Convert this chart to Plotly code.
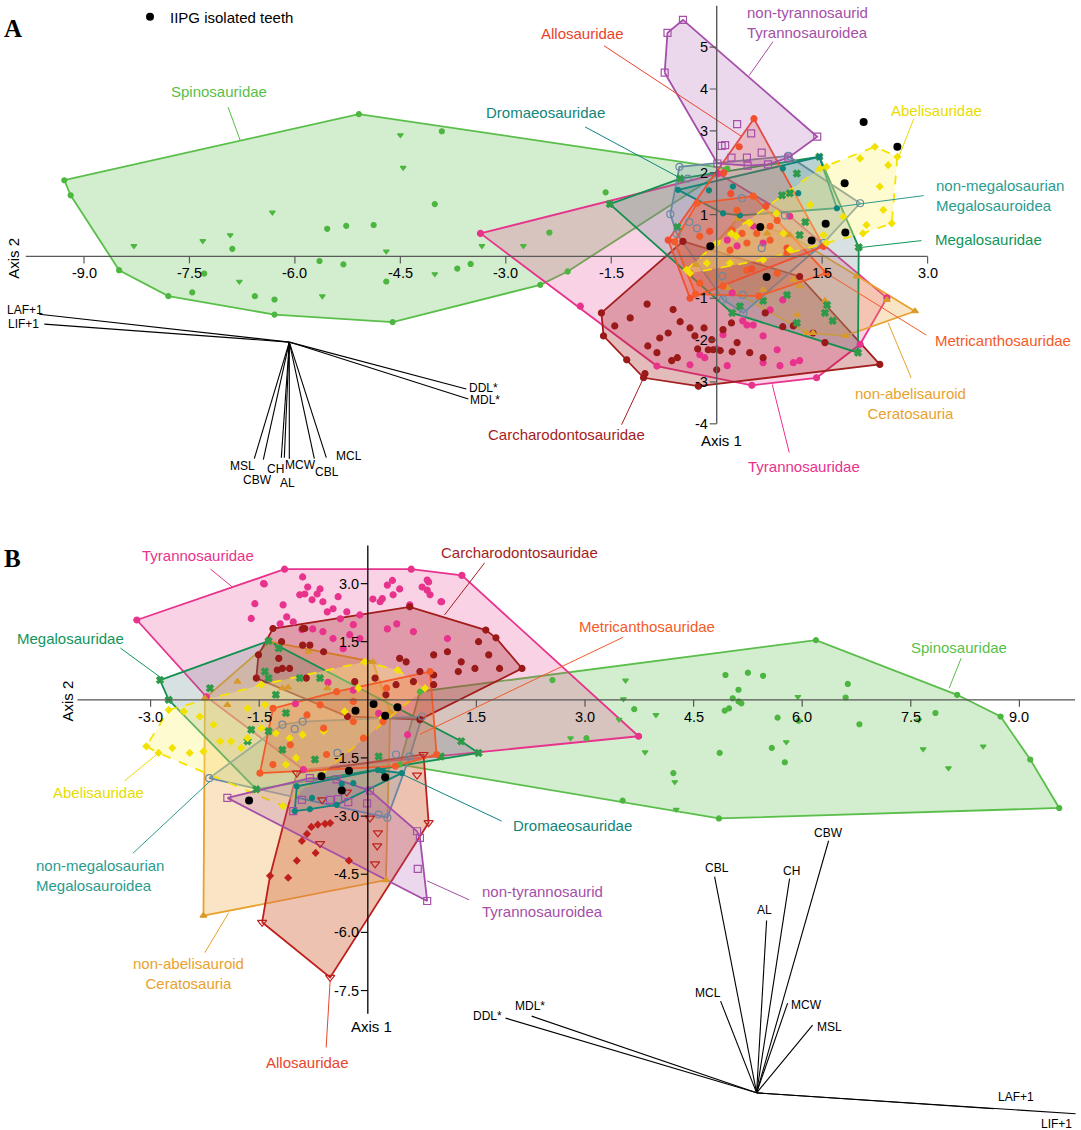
import plotly.graph_objects as go

W, H = 1081, 1130
SPLIT = 520  # pixel row separating panel A (top) and panel B (bottom)

# ======================= DATA : PANEL A =======================
spino_A_x = [-9.28,-5.09,0.15,-1.52,-2.51,-4.61,-6.29,-7.80,-8.50,-9.19,
             -3.91,-4.01,-5.54,-5.27,-4.88,-6.89,-5.65,-5.31,-3.69,-3.50,
             -4.70,-7.46,-6.29,-6.57,-7.29,-1.58,-2.38,-2.12]
spino_A_y = [1.82,3.40,2.10,1.25,-0.68,-1.57,-1.39,-0.95,-0.33,1.46,
             2.99,1.25,0.66,0.73,0.75,0.18,-0.11,-0.19,-0.29,-0.18,
             -0.60,-0.86,-1.03,-0.95,-0.41,1.53,0.57,-0.36]
spino_A_tri_x = [-4.50,-4.46,-6.32,-6.92,-7.31,-8.29,-4.70,-4.01,-6.79,-5.61,-3.34,-2.75]
spino_A_tri_y = [2.90,2.12,1.05,0.51,0.37,0.25,0.12,-0.42,-0.60,-0.95,0.25,0.25]

tyranno_A_x = [-3.36,0.02,2.42,2.04,1.42,0.50,-0.85,-1.94,
               0.43,0.52,0.66,0.86,1.09,-0.38,-0.24,0.15,0.37,0.09,1.18,0.66,0.90,0.00,
               0.76,0.22,0.94,-0.17,0.52,1.04,0.66,0.15,0.29]
tyranno_A_y = [0.55,1.98,-0.99,-2.10,-2.90,-3.08,-2.62,-1.19,
               -1.64,-1.64,-1.90,-2.23,-2.54,-2.59,-2.35,-2.61,-1.54,-1.87,-2.49,-2.54,-2.61,-2.21,
               -1.28,-0.87,-1.04,-2.42,0.72,0.96,0.32,0.39,0.25]

carch_A_x = [-0.48,-1.64,-1.61,-1.04,-0.26,2.32,1.18,
             -0.99,-1.23,-1.45,-0.69,-0.52,-0.38,-0.31,-0.18,-0.07,-0.05,
             -0.27,-0.12,0.05,0.22,0.47,0.66,-0.56,-0.64,-0.85,-0.98,
             -1.28,-1.02,0.00,0.29,0.94,1.09,1.37,1.54,0.09,
             -0.62,-0.81,0.21,0.69]
carch_A_y = [0.36,-1.35,-1.90,-2.90,-3.10,-2.58,-0.48,
             -1.14,-1.47,-1.66,-1.83,-1.56,-1.71,-1.90,-1.71,-1.99,-2.23,
             -2.21,-2.23,-2.25,-2.28,-2.30,-2.42,-2.42,-2.49,-2.30,-2.14,
             -2.47,-2.80,-2.71,-2.06,-1.68,-1.66,-1.83,-2.06,-1.75,
             -1.27,-1.95,-1.59,-1.35]

cerato_A_x = [2.82,1.99,1.28,1.14,1.54,1.37,1.83,2.42,0.66,1.18,0.15,1.04,0.72,1.09,-0.30,0.30]
cerato_A_y = [-1.31,-0.48,-1.83,-1.40,-1.06,-1.83,-1.90,-1.04,-0.80,-0.71,-0.75,0.51,0.55,-0.56,-0.20,0.90]

megalo_A_x = [1.46,2.02,2.01,0.33,-1.52,-0.52,1.04,0.93,1.14,1.26,1.18,-0.56,1.00,1.14,1.57,1.65,1.54,0.66,0.22]
megalo_A_y = [2.38,0.22,-2.30,-1.19,1.25,1.86,1.51,1.46,1.98,0.82,0.51,0.70,-0.92,-1.59,-1.16,-1.54,-1.35,-1.06,-1.35]

nonmeg_A_x = [-0.53,1.02,2.04,1.52,0.38,0.09,-0.66,-0.57,-0.41,-0.39,-0.28,0.36,0.97,0.64,0.08,0.37]
nonmeg_A_y = [2.14,2.40,1.27,0.32,-1.35,-1.03,1.01,0.55,1.86,0.82,0.67,1.39,0.98,0.20,-0.47,-0.92]

dromaeo_A_x = [-0.55,1.46,1.71,0.33,0.09,-0.11,0.23,0.94,1.16]
dromaeo_A_y = [1.59,2.38,1.15,0.98,1.03,1.58,1.67,2.10,1.51]

metri_A_x = [0.22,0.36,0.43,0.57,0.76,0.19,-0.24,0.29,0.76,0.52,0.86,-0.38,-0.24,0.09,0.43,0.86,1.00,
             -0.28,-0.60,1.56,0.60,-0.30]
metri_A_y = [0.63,0.55,0.32,0.55,0.39,0.15,0.48,1.10,0.72,1.44,0.86,-0.40,-0.64,-0.71,-0.33,-0.40,0.08,
             1.27,0.35,-0.40,-0.95,-0.90]

allo_A_x = [0.53,0.32,-0.69,-0.38,1.52,0.20,0.70,-0.10,1.00,0.50,0.10]
allo_A_y = [3.29,2.62,0.39,-1.00,0.24,1.50,1.20,0.60,0.20,-0.30,2.00]

nontyr_A_x = [-0.48,-0.70,-0.74,1.43,0.01,0.29,0.49,0.07,0.12,0.21,0.43,0.64,0.44,0.73,1.02]
nontyr_A_y = [5.65,5.34,4.39,2.86,2.22,3.16,2.94,2.64,2.66,2.36,2.36,2.48,2.17,2.20,2.36]

abeli_A_x = [2.25,2.57,2.49,2.08,1.56,-0.43,-0.38,1.56,1.47,1.33,0.85,0.47,0.21,0.00,-0.14,0.19,
             0.66,1.04,1.52,1.80,2.37,2.32,2.04,2.44,2.13,0.95,0.28]
abeli_A_y = [2.62,2.38,0.79,0.55,0.32,-0.32,-0.40,2.14,2.10,1.23,1.03,0.79,0.55,0.32,-0.16,-0.16,
             -0.08,0.16,0.51,0.95,1.11,1.67,2.34,2.18,0.75,0.55,0.48]

iipg_A_x = [2.09,2.57,1.82,1.55,1.83,1.35,0.62,-0.09,0.71]
iipg_A_y = [3.21,2.62,1.75,0.78,0.57,0.38,0.70,0.24,-0.49]

# biplot loadings panel A (Axis1, Axis2), arbitrary biplot units
load_names_A = ['LAF+1','LIF+1','DDL*','MDL*','MSL','CBW','CH','AL','MCW','CBL','MCL']
load_A_x = [-2.50,-2.45,1.77,1.79,-0.35,-0.26,-0.08,-0.05,0.00,0.25,0.37]
load_A_y = [0.28,0.18,-0.47,-0.57,-1.17,-1.18,-1.16,-1.16,-1.17,-1.17,-1.16]

# ======================= DATA : PANEL B =======================
spino_B_x = [6.19,8.14,8.74,9.15,9.55,4.85,3.52,0.44,0.72,
             2.55,4.94,5.25,5.46,5.12,5.04,5.12,5.16,4.99,4.93,3.68,5.66,5.95,6.60,5.58,5.76,4.86,4.22,3.02,7.84,
             6.63,6.79]
spino_B_y = [1.54,0.13,-0.43,-1.54,-2.79,-3.06,-2.60,-1.67,0.21,
             0.51,0.64,0.70,0.62,0.26,0.04,-0.04,-0.09,-0.22,-0.28,-0.24,-0.46,-0.54,0.06,-1.24,-1.61,-1.37,-1.89,-0.99,-0.34,
             0.41,-0.63]
spino_B_tri_x = [3.56,3.53,3.98,3.47,2.80,3.83,4.24,4.26,5.78,5.94,7.67,8.02,8.50,7.61]
spino_B_tri_y = [0.50,0.02,-0.39,-0.51,-0.99,-1.35,-2.12,-2.83,-1.09,0.08,-1.27,-1.76,-1.20,-0.53]

tyranno_B_x = [-3.19,-1.15,0.60,1.30,3.74,-0.89,-2.23,
               -1.43,-1.17,-0.94,-0.87,-0.83,-0.77,-0.70,-0.66,-0.62,-0.56,
               -0.48,-0.41,-0.38,-0.29,-0.20,-0.11,0.07,0.17,0.27,0.35,
               0.44,0.58,0.75,0.82,1.02,0.86,0.27,0.40,-1.03,-0.91,
               -0.76,-0.62,-0.48,-0.25,-0.34,-0.11,-1.21,-1.12,
               -1.44,-0.90,0.34,0.84,0.82,1.01,1.10,0.63,0.20,-1.56,-1.61,
               -0.55,-0.20,0.15,0.55,-1.00]
tyranno_B_y = [2.06,3.37,3.37,3.21,-0.94,-1.80,0.08,
               2.99,2.45,2.71,2.73,2.91,2.58,2.73,2.86,2.53,2.27,
               2.35,2.66,2.09,2.27,1.94,2.19,2.60,2.53,2.96,2.71,
               2.86,2.45,2.91,3.09,2.53,2.71,1.83,1.96,2.01,1.81,
               1.83,1.76,1.58,1.68,1.32,1.58,1.96,2.14,
               3.00,3.17,3.08,3.04,2.83,2.53,1.58,1.76,2.61,2.48,2.10,
               0.45,0.25,-0.35,-0.90,-0.10]

carch_B_x = [-1.31,0.58,1.63,1.77,2.13,0.72,-0.28,-1.54,-1.51,
             -0.90,-0.80,-0.61,-1.23,-1.18,0.91,1.10,1.29,1.48,1.67,
             1.82,1.25,0.91,0.72,0.53,0.44,0.63,0.91,0.39,0.10,
             -0.18,0.25,1.53,-1.19,-0.87,-1.25,-0.85,-1.08,-0.90]
carch_B_y = [1.84,2.40,1.80,1.60,0.81,-0.51,-0.43,0.56,1.16,
             1.84,1.41,1.24,1.07,0.81,1.16,1.24,0.98,0.81,1.16,
             0.81,0.73,0.64,0.73,0.98,1.07,0.47,0.39,0.39,0.56,
             0.47,0.13,1.50,1.50,1.84,0.77,0.56,0.81,1.41]

cerato_B_x = [-2.25,-1.35,0.07,0.31,0.25,-2.27,-1.80,-1.94,-1.18,-0.56,-0.04,-0.82,-1.10]
cerato_B_y = [0.04,1.50,0.98,-0.30,-4.65,-5.57,0.47,-0.13,0.30,0.30,-0.99,1.24,0.32]

allo_B_x = [-0.98,0.77,0.84,-0.52,-1.46,-0.63,-0.29,0.03,0.14,0.13,0.10,-0.66,0.68]
allo_B_y = [-1.89,-1.41,-3.17,-7.16,-5.74,-2.58,-2.38,-3.05,-3.43,-3.77,-4.23,-3.71,-1.94]
allo_B_dia_x = [-0.78,-0.69,-0.59,-0.52,-0.84,-0.91,-0.72,-0.98,-0.26,-1.10,-1.35]
allo_B_dia_y = [-3.28,-3.22,-3.20,-3.18,-3.46,-3.64,-3.95,-4.15,-4.15,-4.59,-4.54]

megalo_B_x = [-2.87,-1.37,-2.75,-1.54,1.53,-1.23,-1.42,-1.37,-0.94,-0.66,-2.18,
              -1.27,-1.13,-1.61,-1.66,-1.37,-1.18,-0.73,0.15,1.01,1.29]
megalo_B_y = [0.51,1.52,0.00,-2.31,-1.37,1.33,0.73,0.56,0.56,0.56,0.30,
              0.13,-0.34,-0.77,-1.07,-0.81,-1.29,-1.54,-1.46,-1.46,-1.07]

nonmeg_B_x = [-2.19,0.15,0.27,0.75,-0.90,-1.18,-1.01,0.39,0.58,-0.42]
nonmeg_B_y = [-2.02,-2.96,-3.04,-0.43,-0.56,-0.64,-0.75,-1.41,-1.46,-1.37]

abeli_B_x = [-2.75,-3.06,-2.89,-1.17,0.79,0.41,-0.04,-1.47,
             -2.54,-2.32,-2.13,-2.70,-2.46,-2.27,-2.04,-1.89,-1.75,-1.66,
             -1.47,-1.27,-1.08,-0.90,-0.99,-1.13,-0.61,-0.32,-0.13,0.20,-1.66,-1.42]
abeli_B_y = [-0.26,-1.20,-1.37,-2.74,0.30,0.77,0.98,0.39,
             -0.30,-0.43,-0.64,-1.24,-1.37,-1.33,-1.07,-1.07,-1.24,-0.99,
             -0.73,-0.86,-0.99,-0.90,-1.50,-1.67,-0.81,-0.30,0.30,-0.47,-0.22,-0.13]

metri_B_x = [-1.49,-1.31,0.86,0.95,0.38,-0.66,-0.43,-0.20,-0.84,0.26,-0.20,-0.57,-0.06,-1.31,-1.07,-0.61,0.21]
metri_B_y = [-1.89,-0.22,0.73,-1.41,-1.71,-0.13,0.21,-0.04,-0.39,0.30,-0.56,-1.41,-0.99,-1.67,-1.16,-0.73,-0.56]

nontyr_B_x = [-1.94,0.03,0.68,0.82,-0.80,-1.03,-0.91,-0.52,-0.41,-0.27,-0.01,-0.43,0.69,0.72]
nontyr_B_y = [-2.53,-2.34,-3.39,-5.19,-2.02,-2.87,-2.58,-2.58,-2.56,-2.64,-2.67,-2.05,-4.36,-3.56]

dromaeo_B_x = [-0.98,-1.01,-0.80,-0.43,0.47,0.14,-0.36,-0.20,-0.77,0.21]
dromaeo_B_y = [-2.23,-2.87,-2.82,-2.71,-1.89,-1.81,-2.17,-2.15,-2.53,-1.84]

iipg_B_x = [-0.17,0.08,0.41,0.24,-0.26,-0.64,0.24,-0.36,-1.64]
iipg_B_y = [-0.28,-0.11,-0.19,-0.41,-1.83,-1.97,-2.00,-2.34,-2.60]

load_names_B = ['DDL*','MDL*','MCL','CBL','AL','CH','CBW','MCW','MSL','LAF+1','LIF+1']
load_B_x = [-2.51,-2.25,-0.36,-0.42,0.10,0.33,0.72,0.31,0.56,2.37,3.19]
load_B_y = [0.75,0.77,0.92,2.17,1.73,2.15,2.53,0.90,0.68,-0.16,-0.21]

# tick values
A_xticks = [-9.0,-7.5,-6.0,-4.5,-3.0,-1.5,1.5,3.0]
A_yticks = [5,4,3,2,1,-1,-2,-3,-4]
B_xticks = [-3.0,-1.5,1.5,3.0,4.5,6.0,7.5,9.0]
B_yticks = [3.0,1.5,-1.5,-3.0,-4.5,-6.0,-7.5]

# ======================= STYLE =======================
FONT = "Liberation Sans, Arial, Helvetica, sans-serif"
STY = {
    'spino':   dict(line='#5abf4a', fill='rgba(90,191,74,0.27)', mk='#4cb640', sym='circle', sz=5, lab='#5abf4a'),
    'tyranno': dict(line='#e8338c', fill='rgba(232,51,140,0.22)', mk='#e8338c', sym='circle', sz=6, lab='#e8338c'),
    'carch':   dict(line='#a31d1d', fill='rgba(163,29,29,0.30)', mk='#9a1a1a', sym='circle', sz=6, lab='#a31d1d'),
    'cerato':  dict(line='#e8a22e', fill='rgba(232,162,46,0.28)', mk='#d99a2a', sym='triangle-up', sz=6, lab='#e8a22e'),
    'megalo':  dict(line='#12904f', fill='rgba(100,135,140,0.25)', mk='#2f9a4a', sym='x', sz=6, lab='#11955a'),
    'nonmeg':  dict(line='#6b89a0', fill='rgba(107,137,160,0.22)', mk='#6b89a0', sym='circle-open', sz=7, lab='#2b9b8f'),
    'dromaeo': dict(line='#0f857b', fill='rgba(15,133,123,0.14)', mk='#0f857b', sym='circle', sz=5, lab='#0f857b'),
    'metri':   dict(line='#f35b29', fill='rgba(243,91,41,0.25)', mk='#f35b29', sym='circle', sz=6, lab='#f35b29'),
    'allo':    dict(line='#f0502e', fill='rgba(240,80,46,0.22)', mk='#f0502e', sym='circle', sz=6, lab='#e8452c'),
    'nontyr':  dict(line='#a54fa8', fill='rgba(165,79,168,0.22)', mk='#a54fa8', sym='square-open', sz=7, lab='#a54fa8'),
    'abeli':   dict(line='#f5e300', fill='rgba(255,243,120,0.35)', mk='#f2e200', sym='diamond', sz=5, lab='#e6dc00'),
}
B_OVERRIDE = {'allo': dict(line='#c0201d', fill='rgba(214,110,70,0.42)', mk='#c0201d', sym='triangle-down-open', sz=8)}

PANEL_A = {
    'spino': [(spino_A_x, spino_A_y, 'circle'), (spino_A_tri_x, spino_A_tri_y, 'triangle-down')],
    'tyranno': [(tyranno_A_x, tyranno_A_y, None)],
    'carch': [(carch_A_x, carch_A_y, None)],
    'cerato': [(cerato_A_x, cerato_A_y, None)],
    'megalo': [(megalo_A_x, megalo_A_y, None)],
    'nonmeg': [(nonmeg_A_x, nonmeg_A_y, None)],
    'dromaeo': [(dromaeo_A_x, dromaeo_A_y, None)],
    'metri': [(metri_A_x, metri_A_y, None)],
    'allo': [(allo_A_x, allo_A_y, None)],
    'nontyr': [(nontyr_A_x, nontyr_A_y, None)],
    'abeli': [(abeli_A_x, abeli_A_y, None)],
}
PANEL_B = {
    'spino': [(spino_B_x, spino_B_y, 'circle'), (spino_B_tri_x, spino_B_tri_y, 'triangle-down')],
    'tyranno': [(tyranno_B_x, tyranno_B_y, None)],
    'cerato': [(cerato_B_x, cerato_B_y, None)],
    'allo': [(allo_B_x, allo_B_y, None), (allo_B_dia_x, allo_B_dia_y, 'diamond')],
    'carch': [(carch_B_x, carch_B_y, None)],
    'megalo': [(megalo_B_x, megalo_B_y, None)],
    'nonmeg': [(nonmeg_B_x, nonmeg_B_y, None)],
    'abeli': [(abeli_B_x, abeli_B_y, None)],
    'metri': [(metri_B_x, metri_B_y, None)],
    'nontyr': [(nontyr_B_x, nontyr_B_y, None)],
    'dromaeo': [(dromaeo_B_x, dromaeo_B_y, None)],
}

# label placement: tip (data), label offset px, leader start offset px, text, alignment
LABELS_A = {
    'spino':   ((-6.78, 2.78), (-21, 49), (-12, 33), 'Spinosauridae', 'center'),
    'dromaeo': ((-0.55, 1.90), (-133, 64), (-93, 50), 'Dromaeosauridae', 'center'),
    'allo':    ((0.36, 2.86), (-160, 103), (-138, 91), 'Allosauridae', 'center'),
    'nontyr':  ((0.46, 4.32), (58, 53), (24, 34), 'non-tyrannosaurid<br>Tyrannosauroidea', 'left'),
    'abeli':   ((2.59, 2.38), (38, 46), (15, 38), 'Abelisauridae', 'center'),
    'nonmeg':  ((1.75, 1.19), (160, 11), (84, 11), 'non-megalosaurian<br>Megalosauroidea', 'left'),
    'megalo':  ((2.03, 0.21), (129, 8), (62, 7), 'Megalosauridae', 'center'),
    'metri':   ((1.56, -0.40), (177, -67), (100, -62), 'Metricanthosauridae', 'center'),
    'cerato':  ((2.44, -1.59), (22, -81), (23, -55), 'non-abelisauroid<br>Ceratosauria', 'center'),
    'tyranno': ((0.79, -3.06), (32, -82), (17, -68), 'Tyrannosauridae', 'center'),
    'carch':   ((-1.04, -2.90), (-77, -57), (-22, -47), 'Carcharodontosauridae', 'center'),
}
LABELS_B = {
    'tyranno': ((-1.87, 2.91), (-34, 32), (-22, 18), 'Tyrannosauridae', 'center'),
    'carch':   ((1.06, 2.19), (75, 62), (40, 52), 'Carcharodontosauridae', 'center'),
    'megalo':  ((-2.85, 0.56), (-91, 40), (-41, 30), 'Megalosauridae', 'center'),
    'metri':   ((0.72, -0.89), (227, 108), (203, 97), 'Metricanthosauridae', 'center'),
    'spino':   ((8.03, 0.30), (10, 41), (12, 30), 'Spinosauridae', 'center'),
    'abeli':   ((-2.89, -1.37), (-60, -40), (-34, -28), 'Abelisauridae', 'center'),
    'dromaeo': ((0.44, -1.89), (173, -52), (102, -48), 'Dromaeosauridae', 'center'),
    'nonmeg':  ((-2.18, -2.10), (-110, -94), (-77, -72), 'non-megalosaurian<br>Megalosauroidea', 'left'),
    'nontyr':  ((0.82, -4.67), (115, -21), (42, -19), 'non-tyrannosaurid<br>Tyrannosauroidea', 'left'),
    'cerato':  ((-1.92, -5.49), (-40, -61), (-24, -40), 'non-abelisauroid<br>Ceratosauria', 'center'),
    'allo':    ((-0.52, -7.24), (-23, -82), (-4, -67), 'Allosauridae', 'center'),
}
LOADLAB_A = {'LAF+1': (-14, 4), 'LIF+1': (-21, 0), 'DDL*': (17, 1), 'MDL*': (17, -1), 'MSL': (-12, -7),
             'CBW': (-6, -20), 'CH': (-6, -11), 'AL': (3, -25), 'MCW': (11, -6), 'CBL': (13, -13), 'MCL': (23, 2)}
LOADLAB_B = {'DDL*': (-18, 2), 'MDL*': (-2, 10), 'MCL': (-13, 8), 'CBL': (2, 9), 'AL': (-2, 10), 'CH': (2, 8),
             'CBW': (0, 8), 'MCW': (19, -2), 'MSL': (17, -2), 'LAF+1': (22, 12), 'LIF+1': (-19, -10)}

# pixel anchors of the two plotting frames
A_X0, A_XS, A_Y0, A_YS = 716.7, 70.3, 253.3, 42.0
B_X0, B_XS, B_Y0, B_YS = 367.8, 72.4, 698.3, 38.9
A_BI = (289.3, 339.3)   # pixel location of loading-vector origin, panel A
B_BI = (756.6, 1092.7)  # panel B
BI_S = 100.0            # pixels per loading unit


def hull(xs, ys):
    pts = sorted(set(zip(xs, ys)))
    def cross(o, a, b):
        return (a[0]-o[0])*(b[1]-o[1]) - (a[1]-o[1])*(b[0]-o[0])
    lower, upper = [], []
    for p in pts:
        while len(lower) >= 2 and cross(lower[-2], lower[-1], p) <= 0:
            lower.pop()
        lower.append(p)
    for p in reversed(pts):
        while len(upper) >= 2 and cross(upper[-2], upper[-1], p) <= 0:
            upper.pop()
        upper.append(p)
    h = lower[:-1] + upper[:-1]
    h.append(h[0])
    return [p[0] for p in h], [p[1] for p in h]


fig = go.Figure()


def draw_panel(panel, xa, ya, override):
    for g, sets in panel.items():
        st = dict(STY[g]); st.update(override.get(g, {}))
        allx = [v for s in sets for v in s[0]]
        ally = [v for s in sets for v in s[1]]
        hx, hy = hull(allx, ally)
        fig.add_trace(go.Scatter(x=hx, y=hy, xaxis=xa, yaxis=ya, mode='lines', fill='toself',
                                 fillcolor=st['fill'],
                                 line=dict(color=st['line'], width=1.8, dash='dash' if g == 'abeli' else 'solid'),
                                 hoverinfo='skip', showlegend=False))
    for g, sets in panel.items():
        st = dict(STY[g]); st.update(override.get(g, {}))
        for xs, ys, sym in sets:
            s = sym or st['sym']
            size = 5 if (sym == 'diamond' and g == 'allo') else st['sz']
            fig.add_trace(go.Scatter(x=xs, y=ys, xaxis=xa, yaxis=ya, mode='markers',
                                     marker=dict(symbol=s, size=size, color=st['mk'],
                                                 line=dict(width=1.2, color=st['mk'])),
                                     hoverinfo='skip', showlegend=False))


draw_panel(PANEL_A, 'x', 'y', {})
draw_panel(PANEL_B, 'x2', 'y2', B_OVERRIDE)

fig.add_trace(go.Scatter(x=iipg_A_x, y=iipg_A_y, xaxis='x', yaxis='y', mode='markers',
                         marker=dict(color='black', size=8), name='IIPG isolated teeth', showlegend=True,
                         hoverinfo='skip'))
fig.add_trace(go.Scatter(x=iipg_B_x, y=iipg_B_y, xaxis='x2', yaxis='y2', mode='markers',
                         marker=dict(color='black', size=8), showlegend=False, hoverinfo='skip'))

# loading vectors
for names, lx, ly, xa, ya in [(load_names_A, load_A_x, load_A_y, 'x3', 'y3'),
                              (load_names_B, load_B_x, load_B_y, 'x4', 'y4')]:
    vx, vy = [], []
    for a, b in zip(lx, ly):
        vx += [0, a, None]
        vy += [0, b, None]
    fig.add_trace(go.Scatter(x=vx, y=vy, xaxis=xa, yaxis=ya, mode='lines',
                             line=dict(color='black', width=1.1), hoverinfo='skip', showlegend=False))

for names, lx, ly, xr, yr, offs in [(load_names_A, load_A_x, load_A_y, 'x3', 'y3', LOADLAB_A),
                                    (load_names_B, load_B_x, load_B_y, 'x4', 'y4', LOADLAB_B)]:
    for n, a, b in zip(names, lx, ly):
        fig.add_annotation(x=a, y=b, xref=xr, yref=yr, text=n, showarrow=False,
                           xshift=offs[n][0], yshift=offs[n][1],
                           font=dict(size=12, color='black', family=FONT))

# group labels with leader lines
for labels, xr, yr in [(LABELS_A, 'x', 'y'), (LABELS_B, 'x2', 'y2')]:
    for g, (tip, loff, soff, text, align) in labels.items():
        col = STY[g]['lab']
        fig.add_shape(type='line', xref=xr, yref=yr, xsizemode='pixel', ysizemode='pixel',
                      xanchor=tip[0], yanchor=tip[1], x0=0, y0=0, x1=soff[0], y1=soff[1],
                      line=dict(color=col, width=1))
        fig.add_annotation(x=tip[0], y=tip[1], xref=xr, yref=yr, text=text, showarrow=False,
                           xshift=loff[0], yshift=loff[1], align=align,
                           font=dict(size=15, color=col, family=FONT))


def draw_axes(xr, yr, xlo, xhi, ylo, yhi, xt, yt, fmtx, fmty, hcol, vcol):
    fig.add_shape(type='line', xref=xr, yref=yr, x0=xlo, x1=xhi, y0=0, y1=0, line=dict(color=hcol, width=1.4))
    fig.add_shape(type='line', xref=xr, yref=yr, x0=0, x1=0, y0=ylo, y1=yhi, line=dict(color=vcol, width=1.4))
    for v in xt:
        fig.add_shape(type='line', xref=xr, yref=yr, ysizemode='pixel', yanchor=0, y0=0, y1=-7,
                      x0=v, x1=v, line=dict(color=hcol, width=1.2))
        fig.add_annotation(x=v, y=0, xref=xr, yref=yr, text=fmtx(v), showarrow=False, yshift=-17,
                           font=dict(size=14.5, color='black', family=FONT))
    for v in yt:
        fig.add_shape(type='line', xref=xr, yref=yr, xsizemode='pixel', xanchor=0, x0=0, x1=-7,
                      y0=v, y1=v, line=dict(color=vcol, width=1.2))
        fig.add_annotation(x=0, y=v, xref=xr, yref=yr, text=fmty(v), showarrow=False, xanchor='right',
                           xshift=-7, font=dict(size=14.5, color='black', family=FONT))

draw_axes('x', 'y', (25.8 - A_X0) / A_XS, 3.0, -4.0, (A_Y0 - 1.7) / A_YS, A_xticks, A_yticks,
          lambda v: f"{v:.1f}", lambda v: f"{v:d}", '#5a5a5a', '#5a5a5a')
draw_axes('x2', 'y2', (77.5 - B_X0) / B_XS, (1075 - B_X0) / B_XS, (B_Y0 - 1013.3) / B_YS, (B_Y0 - 543.3) / B_YS,
          B_xticks, B_yticks, lambda v: f"{v:.1f}", lambda v: f"{v:.1f}", '#555555', '#111111')


def ptext(px, py, text, size=15, angle=0, family=FONT, bold=False):
    fig.add_annotation(x=px / W, y=1 - py / H, xref='paper', yref='paper', text=f"<b>{text}</b>" if bold else text,
                       showarrow=False, textangle=angle, xanchor='center', yanchor='middle',
                       font=dict(size=size, color='black', family=family))

ptext(12.7, 255, 'Axis 2', angle=-90)
ptext(721.8, 438.3, 'Axis 1')
ptext(67.1, 700, 'Axis 2', angle=-90)
ptext(371.9, 1026, 'Axis 1')
ptext(12.5, 25, 'A', size=25, family='Liberation Serif, Times New Roman, serif', bold=True)
ptext(12, 556, 'B', size=25, family='Liberation Serif, Times New Roman, serif', bold=True)

dom_top = [1 - SPLIT / H, 1]
dom_bot = [0, 1 - SPLIT / H]
hidden = dict(visible=False, showgrid=False, zeroline=False, fixedrange=True)
fig.update_layout(
    width=W, height=H, margin=dict(l=0, r=0, t=0, b=0),
    paper_bgcolor='white', plot_bgcolor='rgba(0,0,0,0)',
    font=dict(family=FONT),
    xaxis=dict(domain=[0, 1], range=[-A_X0 / A_XS, (W - A_X0) / A_XS], anchor='y', **hidden),
    yaxis=dict(domain=dom_top, range=[(A_Y0 - SPLIT) / A_YS, A_Y0 / A_YS], anchor='x', **hidden),
    xaxis2=dict(domain=[0, 1], range=[-B_X0 / B_XS, (W - B_X0) / B_XS], anchor='y2', **hidden),
    yaxis2=dict(domain=dom_bot, range=[(B_Y0 - H) / B_YS, (B_Y0 - SPLIT) / B_YS], anchor='x2', **hidden),
    xaxis3=dict(overlaying='x', anchor='y3', range=[-A_BI[0] / BI_S, (W - A_BI[0]) / BI_S], **hidden),
    yaxis3=dict(overlaying='y', anchor='x3', range=[(A_BI[1] - SPLIT) / BI_S, A_BI[1] / BI_S], **hidden),
    xaxis4=dict(overlaying='x2', anchor='y4', range=[-B_BI[0] / BI_S, (W - B_BI[0]) / BI_S], **hidden),
    yaxis4=dict(overlaying='y2', anchor='x4', range=[(B_BI[1] - H) / BI_S, (B_BI[1] - SPLIT) / BI_S], **hidden),
    legend=dict(x=130 / W, y=1 - 13 / H, xanchor='left', yanchor='middle', bgcolor='rgba(0,0,0,0)',
                font=dict(size=15, color='black', family=FONT)),
)

fig.write_html("out.html", config={'displayModeBar': False},
               post_script="document.body.style.margin='0';")
